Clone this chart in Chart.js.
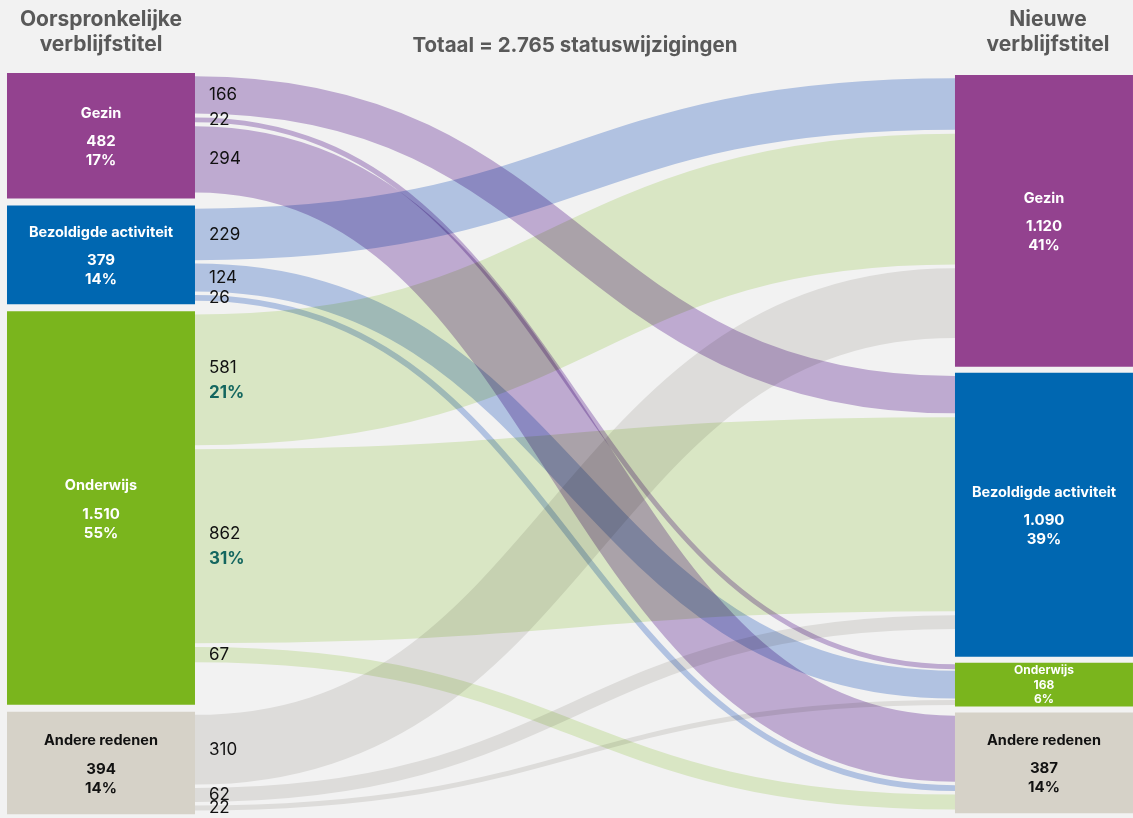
<!DOCTYPE html>
<html lang="nl">
<head>
<meta charset="utf-8">
<title>Statuswijzigingen verblijfstitel</title>
<script src="https://cdn.jsdelivr.net/npm/chart.js@4.4.1/dist/chart.umd.min.js"></script>
<style>
  html, body { margin: 0; padding: 0; background: #f2f2f2; }
  #wrap { width: 1133px; height: 818px; position: relative; overflow: hidden; }
  canvas { display: block; }
</style>
</head>
<body>
<div id="wrap"><canvas id="sankey" width="1133" height="818"></canvas></div>
<script>
// ---- data ----
const nodeNames = ['Gezin', 'Bezoldigde activiteit', 'Onderwijs', 'Andere redenen'];
const sourceTotals = [482, 379, 1510, 394];
const targetTotals = [1120, 1090, 168, 387];
const flowFrom   = [0, 0, 0, 1, 1, 1, 2, 2, 2, 3, 3, 3];
const flowTo     = [1, 2, 3, 0, 2, 3, 0, 1, 3, 0, 1, 2];
const flowValues = [166, 22, 294, 229, 124, 26, 581, 862, 67, 310, 62, 22];
const flowShowShare = [false, false, false, false, false, false, true, true, false, false, false, false];
const columnTitles = [['Oorspronkelijke', 'verblijfstitel'], ['Nieuwe', 'verblijfstitel']];
const totalLabel = 'Totaal = {n} statuswijzigingen';

// ---- styling ----
const FONT = 'Inter, "Noto Sans", sans-serif';
const nodeColors  = ['#93428f', '#0067b1', '#7ab51d', '#d6d2c8'];
const nodeText    = ['#ffffff', '#ffffff', '#ffffff', '#111111'];
const flowColors  = ['rgb(200,179,219)', 'rgb(187,205,237)', 'rgb(229,243,207)', 'rgb(233,232,230)'];
const shareColor  = '#13665f';
const titleColor  = '#595959';

// vertical layout in value units
const Y_MAX = 2860;
const LEFT_GAP = 27, RIGHT_GAP = 23, RIGHT_OFFSET = 8;
const FLOW_RATIO = 0.864, FLOW_PAD = 12, FLOW_GAP = 15;

const grandTotal = sourceTotals.reduce((a, b) => a + b, 0);
const fmt = v => String(v).replace(/\B(?=(\d{3})+(?!\d))/g, '.');
const pct = v => Math.round(v / grandTotal * 100) + '%';

function stackNodes(totals, start, gap) {
  let y = start;
  return totals.map(v => { const r = [y, y + v]; y += v + gap; return r; });
}
const leftRanges = stackNodes(sourceTotals, 0, LEFT_GAP);
const rightRanges = stackNodes(targetTotals, RIGHT_OFFSET, RIGHT_GAP);

function flowSlots(ranges, key) {
  const slots = new Array(flowValues.length);
  ranges.forEach((r, n) => {
    const idx = flowValues.map((v, i) => i).filter(i => key[i] === n);
    const used = idx.reduce((s, i) => s + flowValues[i] * FLOW_RATIO, 0);
    const free = (r[1] - r[0]) - used;
    const gap = Math.min(FLOW_GAP, free / (idx.length + 1));
    let y = r[0] + Math.min(FLOW_PAD, gap);
    idx.forEach(i => {
      const w = flowValues[i] * FLOW_RATIO;
      slots[i] = [y, y + w];
      y += w + gap;
    });
  });
  return slots;
}
const srcSlots = flowSlots(leftRanges, flowFrom);
const tgtSlots = flowSlots(rightRanges, flowTo);

function barBox(el) {
  const p = el.getProps(['x', 'y', 'base', 'width'], true);
  return { x: p.x, w: p.width, top: Math.min(p.y, p.base), bottom: Math.max(p.y, p.base) };
}

const sankeyPlugin = {
  id: 'sankeyFlows',
  beforeDraw(chart) {
    const c = chart.ctx;
    c.save();
    c.fillStyle = '#f2f2f2';
    c.fillRect(0, 0, chart.width, chart.height);
    c.restore();
  },
  beforeDatasetsDraw(chart) {
    const c = chart.ctx, ys = chart.scales.y;
    const L = chart.getDatasetMeta(0).data, R = chart.getDatasetMeta(1).data;
    c.save();
    c.globalCompositeOperation = 'multiply';
    c.lineCap = 'butt';
    flowValues.forEach((v, i) => {
      const a = barBox(L[flowFrom[i]]), b = barBox(R[flowTo[i]]);
      const x0 = a.x + a.w / 2, x1 = b.x - b.w / 2;
      const s = srcSlots[i], t = tgtSlots[i];
      const y0 = ys.getPixelForValue((s[0] + s[1]) / 2);
      const y1 = ys.getPixelForValue((t[0] + t[1]) / 2);
      const w = Math.abs(ys.getPixelForValue(s[1]) - ys.getPixelForValue(s[0]));
      const xm = (x0 + x1) / 2;
      c.beginPath();
      c.moveTo(x0, y0);
      c.bezierCurveTo(xm, y0, xm, y1, x1, y1);
      c.lineWidth = w;
      c.strokeStyle = flowColors[flowFrom[i]];
      c.stroke();
    });
    c.restore();
  },
  afterDatasetsDraw(chart) {
    const c = chart.ctx, ys = chart.scales.y;
    const L = chart.getDatasetMeta(0).data, R = chart.getDatasetMeta(1).data;
    c.save();
    c.textAlign = 'center';
    c.textBaseline = 'middle';

    // node labels
    const drawNode = (el, n, total) => {
      const b = barBox(el);
      const cy = (b.top + b.bottom) / 2;
      const compact = (b.bottom - b.top) < 70;
      c.fillStyle = nodeText[n];
      if (compact) {
        c.font = `700 12px ${FONT}`;
        c.fillText(nodeNames[n], b.x, cy - 14);
        c.fillText(fmt(total), b.x, cy + 0.5);
        c.fillText(pct(total), b.x, cy + 14.5);
      } else {
        c.font = `700 14.5px ${FONT}`;
        c.fillText(nodeNames[n], b.x, cy - 22);
        c.font = `700 15px ${FONT}`;
        c.fillText(fmt(total), b.x, cy + 6);
        c.fillText(pct(total), b.x, cy + 25);
      }
    };
    L.forEach((el, n) => drawNode(el, n, sourceTotals[n]));
    R.forEach((el, n) => drawNode(el, n, targetTotals[n]));

    // flow value labels next to the source column
    c.textAlign = 'left';
    flowValues.forEach((v, i) => {
      const a = barBox(L[flowFrom[i]]);
      const x = a.x + a.w / 2 + 14;
      const s = srcSlots[i];
      const y = ys.getPixelForValue((s[0] + s[1]) / 2);
      c.fillStyle = '#111111';
      c.font = `400 17px ${FONT}`;
      if (flowShowShare[i]) {
        c.fillText(fmt(v), x, y - 12);
        c.fillStyle = shareColor;
        c.font = `700 17px ${FONT}`;
        c.fillText(pct(v), x, y + 13);
      } else {
        c.fillText(fmt(v), x, y);
      }
    });

    // column titles and total
    c.textAlign = 'center';
    c.fillStyle = titleColor;
    c.font = `700 21px ${FONT}`;
    const lx = barBox(L[0]).x, rx = barBox(R[0]).x + 4;
    columnTitles[0].forEach((t, k) => c.fillText(t, lx, 20 + k * 25));
    columnTitles[1].forEach((t, k) => c.fillText(t, rx, 20 + k * 25));
    const a = barBox(L[0]), b = barBox(R[0]);
    c.font = `700 20.5px ${FONT}`;
    c.fillText(totalLabel.replace('{n}', fmt(grandTotal)), (a.x + a.w / 2 + b.x - b.w / 2) / 2, 46);
    c.restore();
  }
};

new Chart(document.getElementById('sankey'), {
  type: 'bar',
  data: {
    datasets: [
      {
        label: columnTitles[0].join(' '),
        data: leftRanges.map(r => ({ x: 0, y: r })),
        backgroundColor: nodeColors,
        borderWidth: 0,
        barThickness: 188,
        grouped: false,
        inflateAmount: 0
      },
      {
        label: columnTitles[1].join(' '),
        data: rightRanges.map(r => ({ x: 1, y: r })),
        backgroundColor: nodeColors,
        borderWidth: 0,
        barThickness: 178,
        grouped: false,
        inflateAmount: 0
      }
    ]
  },
  options: {
    responsive: false,
    animation: false,
    events: [],
    layout: { padding: { top: 73, left: 0, right: 0, bottom: 0 } },
    scales: {
      x: { type: 'linear', min: -0.1071, max: 1.0944, offset: false, display: false },
      y: { type: 'linear', min: 0, max: Y_MAX, reverse: true, display: false }
    },
    plugins: {
      legend: { display: false },
      title: { display: false },
      tooltip: { enabled: false }
    }
  },
  plugins: [sankeyPlugin]
});
</script>
</body>
</html>
